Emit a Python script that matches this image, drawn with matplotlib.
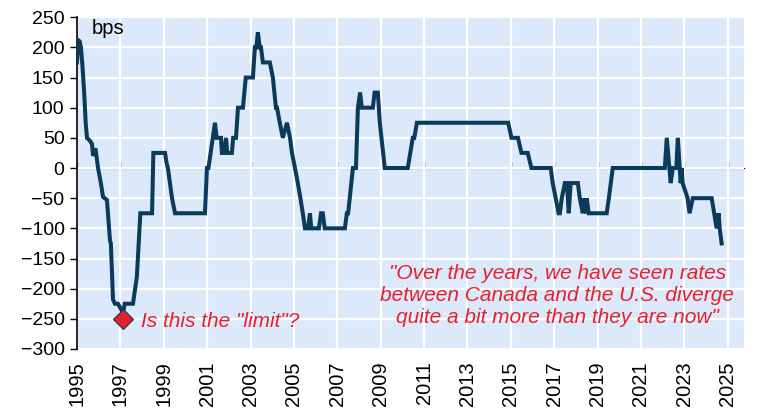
import numpy as np
import matplotlib
matplotlib.use("Agg")
from matplotlib import pyplot as plt

plt.rcParams['font.family'] = ['Liberation Sans', 'DejaVu Sans']

# Canada minus U.S. policy rate spread, bps
years = [1995.00, 1995.05, 1995.12, 1995.18, 1995.25, 1995.33, 1995.40, 1995.46, 1995.60, 1995.69,
         1995.74, 1995.80, 1995.86, 1995.97, 1996.10, 1996.20, 1996.38, 1996.52, 1996.56, 1996.66,
         1996.75, 1996.89, 1997.12, 1997.20, 1997.58, 1997.76, 1997.92, 1998.46, 1998.52, 1999.06,
         1999.12, 1999.19, 1999.38, 1999.52, 2000.90, 2000.99, 2001.06, 2001.36, 2001.44, 2001.64,
         2001.68, 2001.80, 2001.87, 2001.92, 2002.14, 2002.20, 2002.33, 2002.42, 2002.65, 2002.78,
         2003.11, 2003.20, 2003.27, 2003.34, 2003.42, 2003.48, 2003.57, 2003.89, 2004.03, 2004.17,
         2004.22, 2004.35, 2004.49, 2004.68, 2004.82, 2004.91, 2005.05, 2005.18, 2005.30, 2005.41,
         2005.51, 2005.65, 2005.74, 2005.80, 2006.15, 2006.25, 2006.33, 2006.42, 2007.35, 2007.44,
         2007.50, 2007.72, 2007.86, 2007.95, 2008.05, 2008.13, 2008.64, 2008.72, 2008.87, 2008.96,
         2009.19, 2010.25, 2010.48, 2010.55, 2010.67, 2014.88, 2015.03, 2015.33, 2015.49, 2015.78,
         2015.95, 2016.84, 2016.93, 2017.07, 2017.20, 2017.26, 2017.35, 2017.49, 2017.58, 2017.63,
         2017.67, 2017.76, 2018.09, 2018.18, 2018.32, 2018.36, 2018.46, 2018.50, 2018.59, 2019.42,
         2019.52, 2019.70, 2022.10, 2022.19, 2022.37, 2022.47, 2022.63, 2022.70, 2022.83, 2022.88,
         2022.92, 2023.15, 2023.24, 2023.39, 2024.26, 2024.49, 2024.58, 2024.63, 2024.72]
spread_bps = [175, 212, 210, 200, 170, 125, 75, 50, 45, 40,
              20, 30, 30, 0, -25, -48, -53, -120, -125, -218,
              -225, -225, -240, -225, -225, -180, -75, -75, 25, 25,
              10, 0, -50, -75, -75, 0, 0, 75, 50, 50,
              25, 25, 50, 25, 25, 50, 50, 100, 100, 150,
              150, 200, 200, 225, 200, 200, 175, 175, 150, 100,
              100, 75, 50, 75, 50, 25, 0, -25, -50, -75,
              -100, -100, -75, -100, -100, -75, -75, -100, -100, -75,
              -75, 0, 0, 100, 125, 100, 100, 125, 125, 75,
              0, 0, 50, 50, 75, 75, 50, 50, 25, 25,
              0, 0, -25, -50, -75, -75, -50, -25, -25, -50,
              -75, -25, -25, -50, -75, -50, -75, -50, -75, -75,
              -50, 0, 0, 50, -25, 0, 0, 50, -25, 0,
              -25, -50, -75, -50, -50, -100, -75, -100, -125]

limit_point = (1997.12, -250)
xtick_years = list(range(1995, 2026, 2))
yticks = list(range(-300, 251, 50))

navy = '#0b3a5a'
red = '#e8202a'

fig = plt.figure(figsize=(7.67, 4.09), dpi=100)
ax = fig.add_axes([0.1004, 0.1467, 0.8696, 0.8113])
ax.set_facecolor('#dce9fb')

ax.plot(years, spread_bps, color=navy, lw=2.9, solid_joinstyle='miter', zorder=3)
ax.plot(*limit_point, marker='D', ms=10, mfc=red, mec=navy, mew=0.8, zorder=4)

ax.set_xlim(1995, 2025.75)
ax.set_ylim(-300, 250)
ax.set_yticks(yticks)
ax.set_xticks(xtick_years)
ax.set_xticklabels([str(y) for y in xtick_years], rotation=90)
ax.tick_params(axis='x', length=0, pad=9, labelsize=14.5)
ax.tick_params(axis='y', length=5, width=1, pad=4, labelsize=14)
ax.grid(True, color='white', lw=1.6)
ax.set_axisbelow(True)
for s in ['top', 'right', 'bottom']:
    ax.spines[s].set_visible(False)
ax.spines['left'].set_linewidth(1.2)

# zero line with small ticks
zero_ax = ax.secondary_xaxis(300 / 550)
zero_ax.set_xticks(xtick_years)
zero_ax.set_xticklabels([])
zero_ax.tick_params(length=4, width=1, direction='out')
zero_ax.spines['bottom'].set_linewidth(1.2)

ax.text(0.022, 0.965, 'bps', transform=ax.transAxes, fontsize=14.5, va='center', ha='left')
ax.text(1997.95, -255, 'Is this the "limit"?', color=red, style='italic', fontsize=15,
        va='center', ha='left')
ax.text(2017.14, -211, '"Over the years, we have seen rates\nbetween Canada and the U.S. diverge\n'
        'quite a bit more than they are now"', color=red, style='italic', fontsize=15,
        va='center', ha='center', multialignment='center', linespacing=1.22)

plt.savefig('out.png', dpi=100)
